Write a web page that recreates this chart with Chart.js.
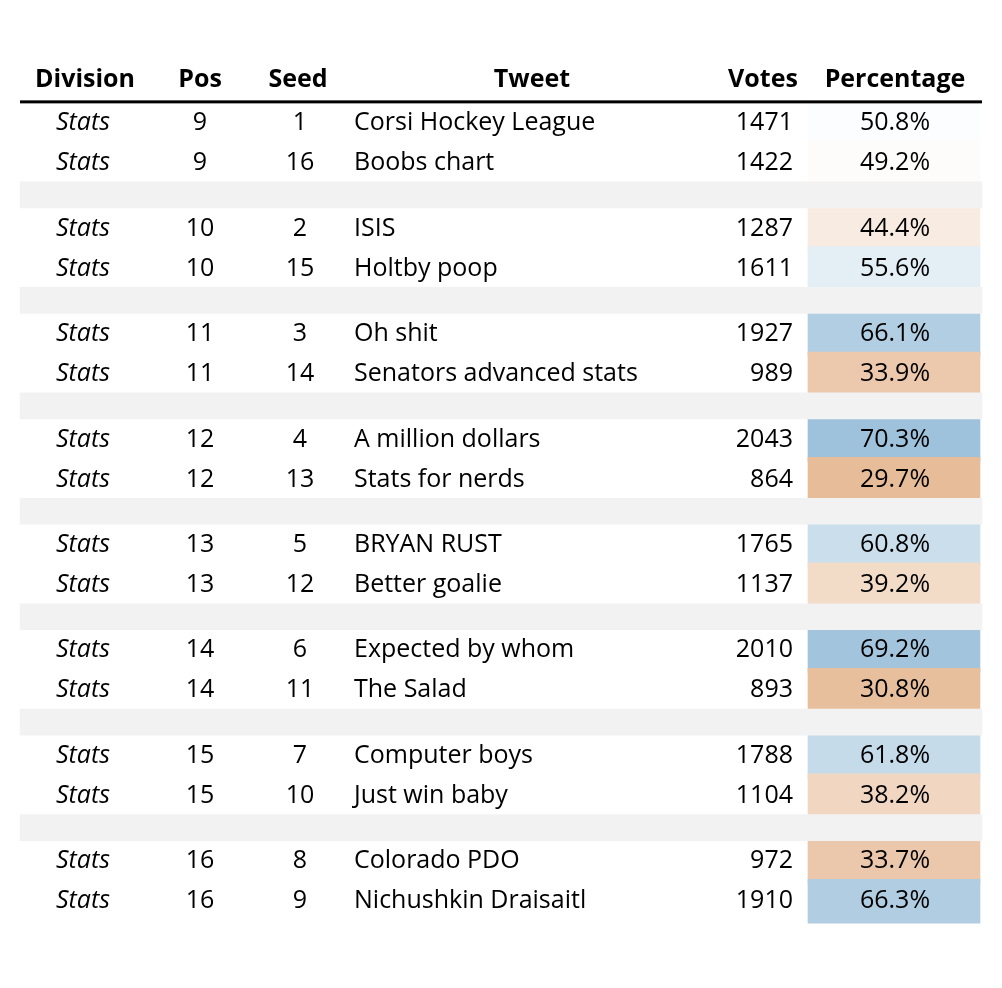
<!DOCTYPE html>
<html><head><meta charset="utf-8">
<script src="https://cdn.jsdelivr.net/npm/chart.js"></script>
<style>html,body{margin:0;padding:0;background:#fff;overflow:hidden}#wrap{position:absolute;left:0;top:0;width:1002px;height:988px}canvas{display:block}</style>
</head><body>
<div id="wrap"><canvas id="c"></canvas></div>
<script>
const headers = ["Division","Pos","Seed","Tweet","Votes","Percentage"];
const divisions = ["Stats","Stats","Stats","Stats","Stats","Stats","Stats","Stats","Stats","Stats","Stats","Stats","Stats","Stats","Stats","Stats"];
const positions = [9,9,10,10,11,11,12,12,13,13,14,14,15,15,16,16];
const seeds = [1,16,2,15,3,14,4,13,5,12,6,11,7,10,8,9];
const tweets = ["Corsi Hockey League","Boobs chart","ISIS","Holtby poop","Oh shit","Senators advanced stats","A million dollars","Stats for nerds","BRYAN RUST","Better goalie","Expected by whom","The Salad","Computer boys","Just win baby","Colorado PDO","Nichushkin Draisaitl"];
const votes = [1471,1422,1287,1611,1927,989,2043,864,1765,1137,2010,893,1788,1104,972,1910];
const percentages = [50.8,49.2,44.4,55.6,66.1,33.9,70.3,29.7,60.8,39.2,69.2,30.8,61.8,38.2,33.7,66.3];

const FONT = '"Open Sans", "Noto Sans", sans-serif';
const rowY = i => 86 + Math.floor(i/2)*116 + (i%2)*44;
const sepY = k => 165 + k*116;
function cellColor(p){
  const t = Math.min(1, Math.abs(p-50)/20);
  const tgt = p >= 50 ? [159,194,220] : [231,188,152];
  const c = tgt.map(v => Math.round(255 - (255-v)*t));
  return `rgb(${c[0]},${c[1]},${c[2]})`;
}
const cellData = percentages.map((p,i)=>({x:[808,980], y:rowY(i)}));
const sepData = [0,1,2,3,4,5,6].map(k=>({x:[20,982], y:sepY(k)}));

const textPlugin = {
  id:'tableText',
  afterDatasetsDraw(chart){
    const ctx = chart.ctx, xs = chart.scales.x, ys = chart.scales.y;
    ctx.save();
    ctx.textBaseline = 'middle';
    ctx.fillStyle = '#000';
    ctx.font = `bold 25px ${FONT}`;
    const hx = [85,200,298,532,763,895];
    headers.forEach((h,j)=>{ctx.textAlign='center';ctx.fillText(h, xs.getPixelForValue(hx[j]), ys.getPixelForValue(38));});
    ctx.fillRect(xs.getPixelForValue(20), ys.getPixelForValue(61), xs.getPixelForValue(982)-xs.getPixelForValue(20), 3);
    tweets.forEach((t,i)=>{
      const y = ys.getPixelForValue(rowY(i));
      ctx.font = `italic 25px ${FONT}`; ctx.textAlign='center';
      ctx.fillText(divisions[i], xs.getPixelForValue(83), y);
      ctx.font = `25px ${FONT}`;
      ctx.fillText(String(positions[i]), xs.getPixelForValue(200), y);
      ctx.fillText(String(seeds[i]), xs.getPixelForValue(300), y);
      ctx.fillText(percentages[i].toFixed(1)+'%', xs.getPixelForValue(895), y);
      ctx.textAlign='left'; ctx.fillText(t, xs.getPixelForValue(354), y);
      ctx.textAlign='right'; ctx.fillText(String(votes[i]), xs.getPixelForValue(793), y);
    });
    ctx.restore();
  }
};

new Chart(document.getElementById('c'), {
  type:'bar',
  data:{datasets:[
    {data:sepData, backgroundColor:'#f2f2f2', barThickness:26, borderWidth:0, grouped:false},
    {data:cellData, backgroundColor:percentages.map(cellColor), barThickness:44, borderWidth:0, grouped:false}
  ]},
  options:{
    indexAxis:'y', responsive:true, maintainAspectRatio:false, animation:false,
    layout:{padding:0},
    plugins:{legend:{display:false}, tooltip:{enabled:false}, title:{display:false}},
    scales:{
      x:{type:'linear', min:0, max:1002, display:false, grace:0},
      y:{type:'linear', min:0, max:988, reverse:true, display:false, grace:0}
    }
  },
  plugins:[textPlugin]
});
</script>
</body></html>
